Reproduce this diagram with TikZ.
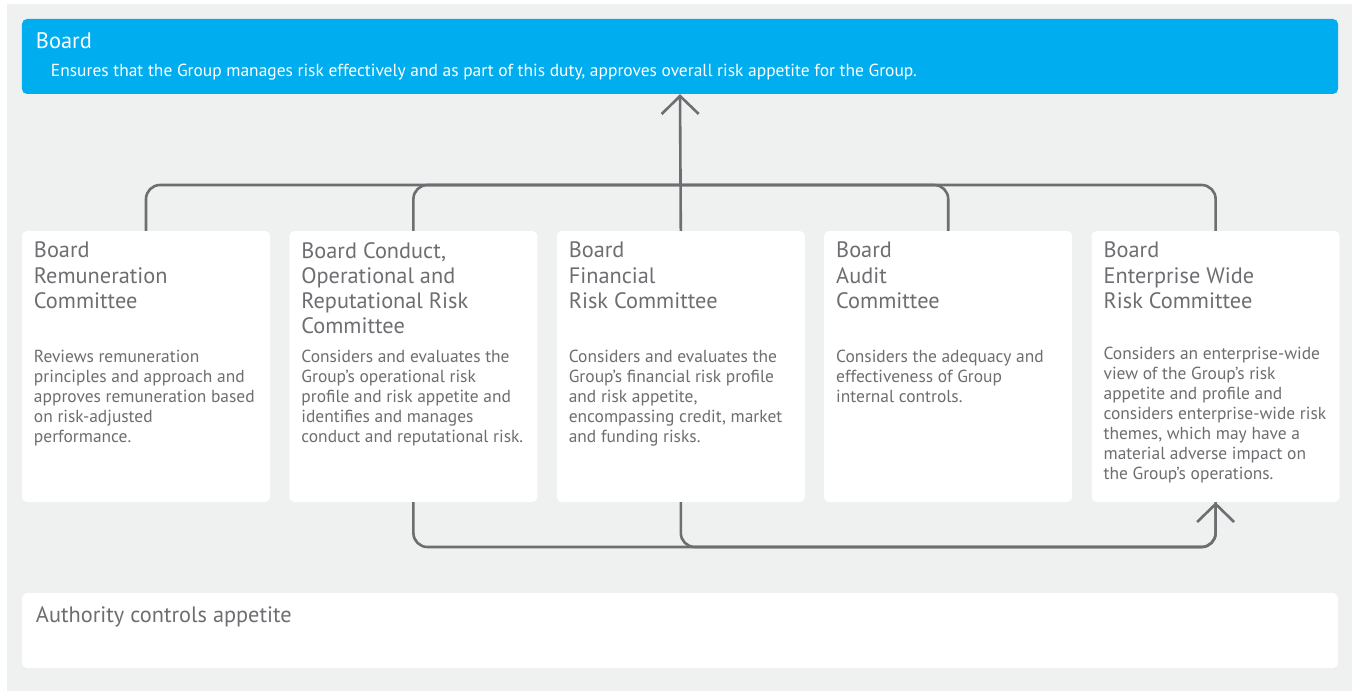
\documentclass[tikz,border=0pt]{standalone}
\usepackage{fontspec}
\setmainfont{PT Sans}
\usetikzlibrary{positioning,arrows.meta}
\definecolor{boardblue}{HTML}{00AEEF}
\definecolor{panelgrey}{HTML}{EFF0F0}
\definecolor{inkgrey}{HTML}{6D6E71}
\tikzset{
  widebox/.style={rounded corners=5bp, minimum width=1316bp, minimum height=75bp, inner sep=0pt},
  cbox/.style={fill=white, rounded corners=5bp, minimum width=248bp, minimum height=271bp, inner sep=0pt},
  htitle/.style={anchor=base west, inner sep=0pt, text=white, font=\fontsize{22.5}{25}\selectfont},
  hbody/.style={anchor=base west, inner sep=0pt, text=white, font=\fontsize{17.5}{20}\selectfont},
  ctitle/.style={anchor=base west, align=left, inner sep=0pt, text=inkgrey, font=\fontsize{22.4}{25.3}\selectfont},
  cbody/.style={anchor=base west, align=left, inner sep=0pt, text=inkgrey, font=\fontsize{17.5}{20.1}\selectfont},
  conn/.style={draw=inkgrey, line width=2.6bp, rounded corners=14bp},
  uptip/.style={-{Straight Barb[length=18bp, width=37bp]}}
}
\begin{document}
\begin{tikzpicture}[x=1bp, y=-1bp]
    \fill[white] (0,0) rectangle (1357,691);
    \useasboundingbox (0,0) rectangle (1357,691);
    \fill[panelgrey] (7,4) rectangle (1352,691);

    \node[widebox, fill=boardblue] (board) at (680,56.5) {};
    \node[cbox] (rem) at (146,366.5) {};
    \node[cbox, right=19bp of rem] (cor) {};
    \node[cbox, right=19bp of cor] (frc) {};
    \node[cbox, right=19bp of frc] (aud) {};
    \node[cbox, right=19bp of aud] (ewr) {};
    \node[widebox, fill=white] (auth) at (680,630.5) {};

    \coordinate (topbus) at (0,185);
    \coordinate (lowbus) at (0,547);
    \draw[conn] (rem.north) |- (topbus -| ewr.north) -- (ewr.north);
    \draw[conn] (cor.north) |- (topbus -| aud.north) -- (aud.north);
    \draw[conn, uptip] (frc.north) -- (board.south);
    \draw[conn] (frc.south) |- (lowbus -| ewr.south) -- (ewr.south);
    \draw[conn, uptip] (cor.south) |- (lowbus -| ewr.south) -- (ewr.south);

    \node[htitle, xshift=14bp, yshift=-30bp] (boardname) at (board.north west) {Board};
    \node[hbody, xshift=29bp, yshift=-58bp] (boardduty) at (board.north west) {Ensures that the Group manages risk effectively and as part of this duty, approves overall risk appetite for the Group.};

    \node[ctitle, xshift=12bp, yshift=-77.6bp] (remname) at (rem.north west) {Board\\Remuneration\\Committee};
    \node[cbody, xshift=12bp, yshift=-212bp] (remduty) at (rem.north west) {Reviews remuneration\\principles and approach and\\approves remuneration based\\on risk-adjusted\\performance.};
    \node[ctitle, xshift=12bp, yshift=-102.9bp] (corname) at (cor.north west) {Board Conduct,\\Operational and\\Reputational Risk\\Committee};
    \node[cbody, xshift=12bp, yshift=-212bp] (corduty) at (cor.north west) {Considers and evaluates the\\Group’s operational risk\\profile and risk appetite and\\identifies and manages\\conduct and reputational risk.};
    \node[ctitle, xshift=12bp, yshift=-77.6bp] (frcname) at (frc.north west) {Board\\Financial\\Risk Committee};
    \node[cbody, xshift=12bp, yshift=-212bp] (frcduty) at (frc.north west) {Considers and evaluates the\\Group’s financial risk profile\\and risk appetite,\\encompassing credit, market\\and funding risks.};
    \node[ctitle, xshift=12bp, yshift=-77.6bp] (audname) at (aud.north west) {Board\\Audit\\Committee};
    \node[cbody, xshift=12bp, yshift=-172bp] (audduty) at (aud.north west) {Considers the adequacy and\\effectiveness of Group\\internal controls.};
    \node[ctitle, xshift=12bp, yshift=-77.6bp] (ewrname) at (ewr.north west) {Board\\Enterprise Wide\\Risk Committee};
    \node[cbody, xshift=12bp, yshift=-249bp] (ewrduty) at (ewr.north west) {Considers an enterprise-wide\\view of the Group’s risk\\appetite and profile and\\considers enterprise-wide risk\\themes, which may have a\\material adverse impact on\\the Group’s operations.};

    \node[ctitle, xshift=14bp, yshift=-30bp] (authname) at (auth.north west) {Authority controls appetite};
\end{tikzpicture}
\end{document}
